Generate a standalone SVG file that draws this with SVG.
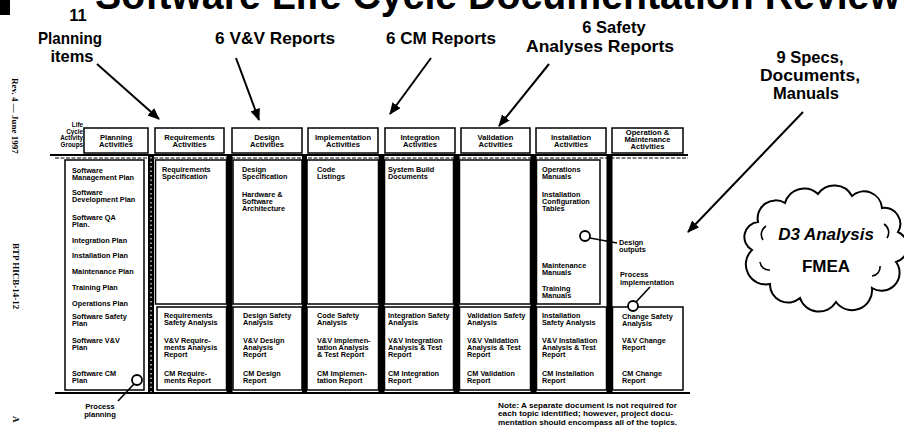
<svg xmlns="http://www.w3.org/2000/svg" width="904" height="429" viewBox="0 0 904 429">
<defs>
<style>
.t{font-family:"Liberation Sans",Arial,sans-serif;font-weight:bold;font-size:7.3px;fill:#000}
.h{font-family:"Liberation Sans",Arial,sans-serif;font-weight:bold;font-size:7.6px;fill:#000;text-anchor:middle}
.lab{font-family:"Liberation Sans",Arial,sans-serif;font-weight:bold;font-size:16.5px;fill:#000;text-anchor:middle}
.side{font-family:"Liberation Serif","Times New Roman",serif;font-weight:bold;font-size:9px;fill:#000}
.box{fill:#fff;stroke:#000;stroke-width:1.5}
.bar{fill:#000}
.arr{stroke:#000;stroke-width:2;fill:none;marker-end:url(#ah)}
.call{stroke:#000;stroke-width:1.6;fill:none}
.circ{stroke:#000;stroke-width:1.8;fill:#fff}
</style>
<marker id="ah" markerUnits="userSpaceOnUse" markerWidth="12" markerHeight="10" refX="11" refY="5" orient="auto">
<path d="M0,0 L12,5 L0,10 z" fill="#000"/>
</marker>
</defs>
<rect width="904" height="429" fill="#fff"/>

<g id="title">
<rect x="0" y="0" width="10" height="15" fill="#000"/>
<text x="95" y="9" textLength="805" lengthAdjust="spacingAndGlyphs" style="font-family:'Liberation Sans',Arial,sans-serif;font-weight:bold;font-size:40px">Software Life Cycle Documentation Review</text>
</g>

<g id="margin">
<text class="side" transform="translate(12,78) rotate(90)">Rev. 4 — June 1997</text>
<text class="side" transform="translate(13,243) rotate(90)">BTP HICB-14-12</text>
<text class="side" transform="translate(13,416) rotate(90)">A</text>
</g>

<g id="labels">
<text class="lab" x="78" y="21">11</text>
<text class="lab" x="70" y="44" textLength="64" lengthAdjust="spacingAndGlyphs">Planning</text>
<text class="lab" x="72" y="62">items</text>
<text class="lab" x="275" y="44" textLength="120" lengthAdjust="spacingAndGlyphs">6 V&amp;V Reports</text>
<text class="lab" x="441" y="44" textLength="110" lengthAdjust="spacingAndGlyphs">6 CM Reports</text>
<text class="lab" x="614" y="33">6 Safety</text>
<text class="lab" x="600" y="52" textLength="148" lengthAdjust="spacingAndGlyphs">Analyses Reports</text>
<text class="lab" x="810" y="63">9 Specs,</text>
<text class="lab" x="810" y="81" textLength="100" lengthAdjust="spacingAndGlyphs">Documents,</text>
<text class="lab" x="806" y="99">Manuals</text>
</g>

<g id="connectors">
<line class="arr" x1="97" y1="64" x2="159" y2="119"/>
<line class="arr" x1="236" y1="58" x2="259" y2="120"/>
<line class="arr" x1="431" y1="58" x2="390" y2="114"/>
<line class="arr" x1="549" y1="64" x2="499" y2="126"/>
<line class="arr" x1="803" y1="112" x2="688" y2="232"/>
</g>

<g id="header-row">
<text class="h" style="text-anchor:end;font-size:6.3px" x="83" y="127"><tspan x="83">Life</tspan><tspan x="83" dy="6.5">Cycle</tspan><tspan x="83" dy="6.5">Activity</tspan><tspan x="83" dy="6.5">Groups</tspan></text>
<line x1="50" y1="155" x2="688" y2="155" stroke="#000" stroke-width="2"/>
<line x1="55" y1="158" x2="688" y2="158" stroke="#000" stroke-width="1" stroke-dasharray="4,1.5"/>
<line x1="55" y1="393" x2="690" y2="393" stroke="#000" stroke-width="2"/>
</g>

<g id="bars">
<rect class="bar" x="148" y="155" width="6" height="238"/>
<line x1="151" y1="157" x2="151" y2="392" stroke="#fff" stroke-width="1.2" stroke-dasharray="1.5,3"/>
<rect class="bar" x="226.5" y="155" width="6" height="238"/>
<rect class="bar" x="302" y="155" width="5" height="238"/>
<rect class="bar" x="378.5" y="155" width="6" height="238"/>
<rect class="bar" x="453.5" y="155" width="6" height="238"/>
<rect class="bar" x="530.5" y="155" width="6" height="238"/>
<rect class="bar" x="606.5" y="155" width="6" height="238"/>
</g>

<g id="planning">
<rect class="box" x="84" y="128" width="64" height="25"/>
<text class="h" x="116" y="140"><tspan x="116">Planning</tspan><tspan x="116" dy="7.3">Activities</tspan></text>
<rect class="box" x="65" y="160" width="79" height="230"/>
<text class="t" x="72" y="172.5"><tspan x="72">Software</tspan><tspan x="72" dy="7.3">Management Plan</tspan><tspan x="72" y="194.5">Software</tspan><tspan x="72" dy="7.3">Development Plan</tspan><tspan x="72" y="219.5">Software QA</tspan><tspan x="72" dy="7.3">Plan.</tspan><tspan x="72" y="242.5">Integration Plan</tspan><tspan x="72" y="257.5">Installation Plan</tspan><tspan x="72" y="273.5">Maintenance Plan</tspan><tspan x="72" y="289.5">Training Plan</tspan><tspan x="72" y="305.5">Operations Plan</tspan><tspan x="72" y="318.5">Software Safety</tspan><tspan x="72" dy="7.3">Plan</tspan><tspan x="72" y="342.5">Software V&amp;V</tspan><tspan x="72" dy="7.3">Plan</tspan><tspan x="72" y="375.5">Software CM</tspan><tspan x="72" dy="7.3">Plan</tspan></text>
<line class="call" x1="134" y1="384" x2="118" y2="401"/>
<circle class="circ" cx="137" cy="380" r="5"/>
<text class="h" x="100" y="409"><tspan x="100">Process</tspan><tspan x="100" dy="8">planning</tspan></text>
</g>

<g id="requirements">
<rect class="box" x="155" y="128" width="69" height="25"/>
<text class="h" x="189.5" y="140"><tspan x="189.5">Requirements</tspan><tspan x="189.5" dy="7.3">Activities</tspan></text>
<rect class="box" x="155.5" y="160" width="71" height="144"/>
<rect class="box" x="157" y="307" width="69.5" height="83"/>
<text class="t" x="162" y="171.5"><tspan x="162">Requirements</tspan><tspan x="162" dy="7.3">Specification</tspan></text>
<text class="t" x="164" y="318"><tspan x="164">Requirements</tspan><tspan x="164" dy="7.3">Safety Analysis</tspan><tspan x="164" y="342.5">V&amp;V Require-</tspan><tspan x="164" dy="7.3">ments Analysis</tspan><tspan x="164" dy="7.3">Report</tspan><tspan x="164" y="376">CM Require-</tspan><tspan x="164" dy="7.3">ments Report</tspan></text>
</g>

<g id="design">
<rect class="box" x="232" y="128" width="70" height="25"/>
<text class="h" x="267" y="140"><tspan x="267">Design</tspan><tspan x="267" dy="7.3">Activities</tspan></text>
<rect class="box" x="233" y="160" width="69" height="144"/>
<rect class="box" x="233" y="307" width="69" height="83"/>
<text class="t" x="242" y="171.5"><tspan x="242">Design</tspan><tspan x="242" dy="7.3">Specification</tspan><tspan x="242" y="196.5">Hardware &amp;</tspan><tspan x="242" dy="7.3">Software</tspan><tspan x="242" dy="7.3">Architecture</tspan></text>
<text class="t" x="243" y="318"><tspan x="243">Design Safety</tspan><tspan x="243" dy="7.3">Analysis</tspan><tspan x="243" y="342.5">V&amp;V Design</tspan><tspan x="243" dy="7.3">Analysis</tspan><tspan x="243" dy="7.3">Report</tspan><tspan x="243" y="376">CM Design</tspan><tspan x="243" dy="7.3">Report</tspan></text>
</g>

<g id="implementation">
<rect class="box" x="308" y="128" width="70" height="25"/>
<text class="h" x="343" y="140"><tspan x="343">Implementation</tspan><tspan x="343" dy="7.3">Activities</tspan></text>
<rect class="box" x="307" y="160" width="71.5" height="144"/>
<rect class="box" x="307" y="307" width="71.5" height="83"/>
<text class="t" x="317" y="171.5"><tspan x="317">Code</tspan><tspan x="317" dy="7.3">Listings</tspan></text>
<text class="t" x="317" y="318"><tspan x="317">Code Safety</tspan><tspan x="317" dy="7.3">Analysis</tspan><tspan x="317" y="342.5">V&amp;V Implemen-</tspan><tspan x="317" dy="7.3">tation Analysis</tspan><tspan x="317" dy="7.3">&amp; Test Report</tspan><tspan x="317" y="376">CM Implemen-</tspan><tspan x="317" dy="7.3">tation Report</tspan></text>
</g>

<g id="integration">
<rect class="box" x="385" y="128" width="70" height="25"/>
<text class="h" x="420" y="140"><tspan x="420">Integration</tspan><tspan x="420" dy="7.3">Activities</tspan></text>
<rect class="box" x="384.5" y="160" width="69" height="144"/>
<rect class="box" x="384.5" y="307" width="69" height="83"/>
<text class="t" x="388" y="171.5"><tspan x="388">System Build</tspan><tspan x="388" dy="7.3">Documents</tspan></text>
<text class="t" x="388" y="318"><tspan x="388">Integration Safety</tspan><tspan x="388" dy="7.3">Analysis</tspan><tspan x="388" y="342.5">V&amp;V Integration</tspan><tspan x="388" dy="7.3">Analysis &amp; Test</tspan><tspan x="388" dy="7.3">Report</tspan><tspan x="388" y="376">CM Integration</tspan><tspan x="388" dy="7.3">Report</tspan></text>
</g>

<g id="validation">
<rect class="box" x="461" y="128" width="69" height="25"/>
<text class="h" x="495.5" y="140"><tspan x="495.5">Validation</tspan><tspan x="495.5" dy="7.3">Activities</tspan></text>
<rect class="box" x="459.5" y="160" width="71" height="144"/>
<rect class="box" x="459.5" y="307" width="71" height="83"/>
<text class="t" x="467" y="318"><tspan x="467">Validation Safety</tspan><tspan x="467" dy="7.3">Analysis</tspan><tspan x="467" y="342.5">V&amp;V Validation</tspan><tspan x="467" dy="7.3">Analysis &amp; Test</tspan><tspan x="467" dy="7.3">Report</tspan><tspan x="467" y="376">CM Validation</tspan><tspan x="467" dy="7.3">Report</tspan></text>
</g>

<g id="installation">
<rect class="box" x="536" y="128" width="70" height="25"/>
<text class="h" x="571" y="140"><tspan x="571">Installation</tspan><tspan x="571" dy="7.3">Activities</tspan></text>
<rect class="box" x="536.5" y="160" width="63.5" height="144"/>
<rect class="box" x="536.5" y="307" width="70" height="83"/>
<text class="t" x="542" y="172"><tspan x="542">Operations</tspan><tspan x="542" dy="7.3">Manuals</tspan><tspan x="542" y="196.5">Installation</tspan><tspan x="542" dy="7.3">Configuration</tspan><tspan x="542" dy="7.3">Tables</tspan><tspan x="542" y="267.5">Maintenance</tspan><tspan x="542" dy="7.3">Manuals</tspan><tspan x="542" y="291">Training</tspan><tspan x="542" dy="7.3">Manuals</tspan></text>
<text class="t" x="542" y="318"><tspan x="542">Installation</tspan><tspan x="542" dy="7.3">Safety Analysis</tspan><tspan x="542" y="342.5">V&amp;V Installation</tspan><tspan x="542" dy="7.3">Analysis &amp; Test</tspan><tspan x="542" dy="7.3">Report</tspan><tspan x="542" y="376">CM Installation</tspan><tspan x="542" dy="7.3">Report</tspan></text>
<line class="call" x1="590" y1="238" x2="617" y2="243"/>
<circle class="circ" cx="585" cy="236" r="5"/>
</g>

<g id="operation-maintenance">
<rect class="box" x="612" y="128" width="71" height="25"/>
<text class="h" x="647.5" y="134.5"><tspan x="647.5">Operation &amp;</tspan><tspan x="647.5" dy="7.2">Maintenance</tspan><tspan x="647.5" dy="7.2">Activities</tspan></text>
<rect class="box" x="612.5" y="307" width="70.5" height="83"/>
<text class="t" x="619" y="244.5"><tspan x="619">Design</tspan><tspan x="619" dy="7.3">outputs</tspan></text>
<text class="t" x="620" y="276.5"><tspan x="620">Process</tspan><tspan x="620" dy="8">implementation</tspan></text>
<line class="call" x1="636" y1="302" x2="650" y2="287"/>
<circle class="circ" cx="633" cy="306" r="5"/>
<text class="t" x="622" y="319"><tspan x="622">Change Safety</tspan><tspan x="622" dy="7.3">Analysis</tspan><tspan x="622" y="342.5">V&amp;V Change</tspan><tspan x="622" dy="7.3">Report</tspan><tspan x="622" y="376">CM Change</tspan><tspan x="622" dy="7.3">Report</tspan></text>
</g>

<g id="note">
<text class="t" x="498" y="407.5" textLength="179" lengthAdjust="spacingAndGlyphs">Note: A separate document is not required for</text>
<text class="t" x="498" y="416" textLength="175" lengthAdjust="spacingAndGlyphs">each topic identified; however, project docu-</text>
<text class="t" x="498" y="424.5" textLength="179" lengthAdjust="spacingAndGlyphs">mentation should encompass all of the topics.</text>
</g>

<g id="d3-cloud">
<path d="M752,250 A15,15 0 0 1 758,222 A18,18 0 0 1 785,203 A20,20 0 0 1 818,194 A20,20 0 0 1 852,196 A18,18 0 0 1 882,208 A16,16 0 0 1 898,232 A16,16 0 0 1 896,262 A18,18 0 0 1 872,288 A20,20 0 0 1 836,302 A20,20 0 0 1 800,298 A18,18 0 0 1 770,284 A20,20 0 0 1 752,250 Z" fill="#fff" stroke="#000" stroke-width="2"/>
<path d="M766,226 a10,10 0 0 0 -3,14 M884,224 a10,10 0 0 1 3,14 M760,262 a9,9 0 0 0 10,8 M880,266 a9,9 0 0 1 -8,10" fill="none" stroke="#000" stroke-width="1.6"/>
<text x="826" y="240" style="font-family:'Liberation Sans',Arial,sans-serif;font-weight:bold;font-style:italic;font-size:17px;text-anchor:middle">D3 Analysis</text>
<text x="826" y="272" style="font-family:'Liberation Sans',Arial,sans-serif;font-weight:bold;font-size:17px;text-anchor:middle">FMEA</text>
</g>
</svg>
